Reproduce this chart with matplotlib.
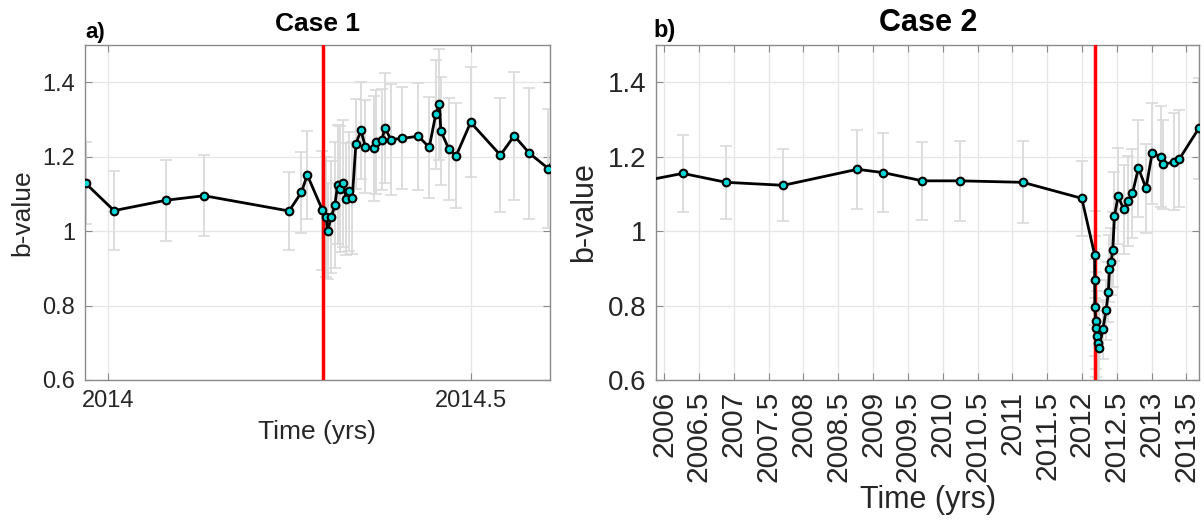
import matplotlib
matplotlib.use("Agg")
from matplotlib import pyplot as plt
from matplotlib.ticker import FormatStrFormatter, FuncFormatter

plt.rcParams["font.family"] = ["Liberation Sans", "DejaVu Sans"]

# Case 1 (panel a)
t_a = [2013.969, 2014.008, 2014.080, 2014.132, 2014.249, 2014.266, 2014.274,
       2014.295, 2014.300, 2014.302, 2014.307, 2014.312, 2014.316, 2014.319,
       2014.323, 2014.328, 2014.332, 2014.336, 2014.341, 2014.348, 2014.354,
       2014.366, 2014.369, 2014.377, 2014.381, 2014.389, 2014.405, 2014.427,
       2014.442, 2014.451, 2014.456, 2014.458, 2014.469, 2014.479, 2014.499,
       2014.540, 2014.559, 2014.580, 2014.606, 2014.620]
b_a = [1.128, 1.055, 1.083, 1.095, 1.054, 1.104, 1.151,
       1.056, 1.038, 1.000, 1.037, 1.070, 1.125, 1.113,
       1.128, 1.087, 1.107, 1.088, 1.234, 1.271, 1.226,
       1.222, 1.240, 1.246, 1.278, 1.246, 1.249, 1.255,
       1.225, 1.314, 1.341, 1.269, 1.220, 1.202, 1.292,
       1.204, 1.256, 1.209, 1.168, 1.220]
err_a = [0.110, 0.107, 0.109, 0.109, 0.105, 0.108, 0.118,
         0.160, 0.160, 0.130, 0.150, 0.170, 0.160, 0.170,
         0.170, 0.150, 0.160, 0.150, 0.120, 0.130, 0.125,
         0.140, 0.140, 0.136, 0.148, 0.149, 0.137, 0.144,
         0.136, 0.146, 0.149, 0.145, 0.137, 0.141, 0.148,
         0.153, 0.172, 0.176, 0.160, 0.150]
shock_a = 2014.296

# Case 2 (panel b)
t_b = [2005.800, 2006.269, 2006.890, 2007.713, 2008.775, 2009.149, 2009.709,
       2010.254, 2011.150, 2011.997, 2012.182, 2012.183, 2012.185, 2012.195,
       2012.205, 2012.220, 2012.235, 2012.240, 2012.300, 2012.346, 2012.379,
       2012.394, 2012.418, 2012.442, 2012.466, 2012.518, 2012.600, 2012.662,
       2012.724, 2012.810, 2012.920, 2013.006, 2013.131, 2013.164, 2013.327,
       2013.399, 2013.677]
b_b = [1.138, 1.155, 1.131, 1.123, 1.166, 1.157, 1.135,
       1.135, 1.131, 1.088, 0.936, 0.868, 0.795, 0.759,
       0.739, 0.718, 0.700, 0.685, 0.736, 0.788, 0.836,
       0.899, 0.917, 0.950, 1.040, 1.094, 1.058, 1.081,
       1.101, 1.169, 1.115, 1.209, 1.200, 1.179, 1.186,
       1.194, 1.276]
err_b = [0.100, 0.103, 0.098, 0.097, 0.106, 0.107, 0.104,
         0.108, 0.110, 0.100, 0.117, 0.120, 0.130, 0.130,
         0.130, 0.120, 0.110, 0.100, 0.080, 0.080, 0.080,
         0.090, 0.090, 0.100, 0.120, 0.130, 0.120, 0.120,
         0.120, 0.130, 0.120, 0.135, 0.135, 0.120, 0.130,
         0.130, 0.136]
shock_b = 2012.184
xticks_b = [2006 + 0.5 * i for i in range(16)]

fig = plt.figure(figsize=(12.04, 5.26), dpi=100)
ax1 = fig.add_axes([0.0706, 0.2776, 0.3858, 0.6369])
ax2 = fig.add_axes([0.5449, 0.2776, 0.4513, 0.6369])


def draw(ax, t, b, err, shock):
    ax.errorbar(t, b, yerr=err, fmt="none", ecolor="#dadada", elinewidth=1.3,
                capsize=4, capthick=1.2, zorder=2)
    ax.axvline(shock, color="red", lw=2.5, zorder=3)
    ax.plot(t, b, "-o", color="black", lw=2, ms=5.5, mfc="#00d6d6",
            mec="black", mew=1.5, zorder=4)
    ax.set_ylim(0.6, 1.5)
    ax.set_yticks([0.6, 0.8, 1.0, 1.2, 1.4])
    ax.yaxis.set_major_formatter(FuncFormatter(lambda v, p: "%g" % round(v, 2)))
    ax.grid(True, color="#e6e6e6", lw=0.9)
    ax.set_axisbelow(True)
    for s in ax.spines.values():
        s.set_color("#8a8a8a")
        s.set_linewidth(1.0)


#panel a
draw(ax1, t_a, b_a, err_a, shock_a)
ax1.set_xlim(2013.968, 2014.6076)
ax1.set_xticks([2014, 2014.5])
ax1.xaxis.set_major_formatter(FormatStrFormatter("%g"))
ax1.tick_params(direction="in", top=True, right=True, length=5,
                color="#8a8a8a", labelcolor="#262626", labelsize=17, pad=7)
ax1.set_xlabel("Time (yrs)", fontsize=19, color="#262626", labelpad=6)
ax1.set_ylabel("b-value", fontsize=19, color="#262626", labelpad=6)
ax1.set_title("Case 1", fontsize=19, fontweight="bold", pad=10)
ax1.text(0.0, 1.005, "a)", transform=ax1.transAxes, fontsize=16,
         fontweight="bold", ha="left", va="bottom")

#panel b
draw(ax2, t_b, b_b, err_b, shock_b)
ax2.set_xlim(2005.885, 2013.686)
ax2.set_xticks(xticks_b)
ax2.xaxis.set_major_formatter(FormatStrFormatter("%g"))
ax2.tick_params(direction="in", top=True, right=True, length=5,
                color="#8a8a8a", labelcolor="#262626", labelsize=20, pad=7)
ax2.tick_params(axis="x", labelrotation=90, labelsize=21.5, pad=8)
ax2.set_xlabel("Time (yrs)", fontsize=22, color="#262626", labelpad=2)
ax2.set_ylabel("b-value", fontsize=22, color="#262626", labelpad=6)
ax2.set_title("Case 2", fontsize=22, fontweight="bold", pad=10)
ax2.text(-0.005, 1.01, "b)", transform=ax2.transAxes, fontsize=17,
         fontweight="bold", ha="left", va="bottom")

fig.savefig("out.png", dpi=100)
